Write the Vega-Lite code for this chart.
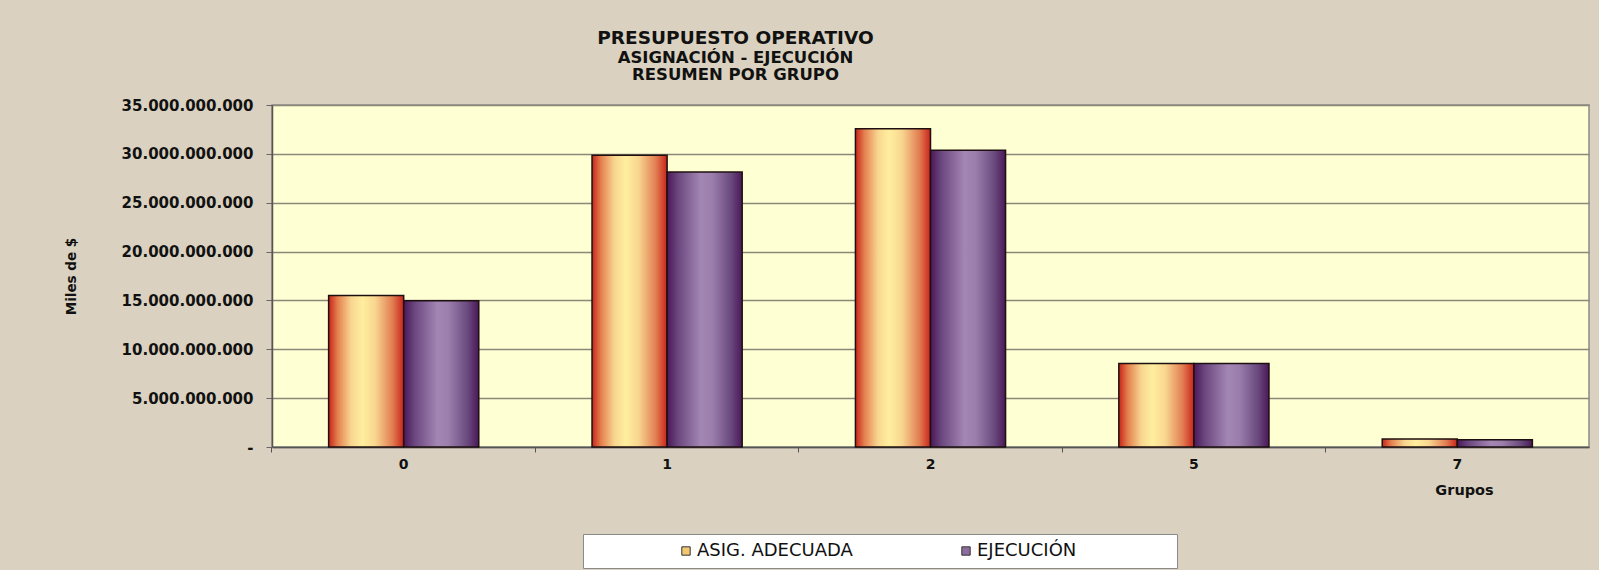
{
  "$schema": "https://vega.github.io/schema/vega-lite/v6.json",
  "width": 1317,
  "height": 342,
  "autosize": {"type": "none"},
  "padding": {"left": 272, "top": 105, "right": 10, "bottom": 123},
  "background": "#DAD1C0",
  "title": {
    "text": "PRESUPUESTO OPERATIVO",
    "subtitle": ["ASIGNACIÓN - EJECUCIÓN", "RESUMEN POR GRUPO"],
    "anchor": "middle",
    "dx": -195,
    "offset": 15,
    "font": "DejaVu Sans",
    "fontSize": 18.5,
    "fontWeight": "bold",
    "color": "#111111",
    "subtitleFont": "DejaVu Sans",
    "subtitleFontSize": 16.5,
    "subtitleFontWeight": "bold",
    "subtitleColor": "#111111",
    "subtitlePadding": 2,
    "subtitleLineHeight": 17
  },
  "data": {
    "values": [
      {"grupo": "0", "serie": "ASIG. ADECUADA", "valor": 15500000000},
      {"grupo": "0", "serie": "EJECUCIÓN", "valor": 14960000000},
      {"grupo": "1", "serie": "ASIG. ADECUADA", "valor": 29850000000},
      {"grupo": "1", "serie": "EJECUCIÓN", "valor": 28140000000},
      {"grupo": "2", "serie": "ASIG. ADECUADA", "valor": 32560000000},
      {"grupo": "2", "serie": "EJECUCIÓN", "valor": 30370000000},
      {"grupo": "5", "serie": "ASIG. ADECUADA", "valor": 8550000000},
      {"grupo": "5", "serie": "EJECUCIÓN", "valor": 8550000000},
      {"grupo": "7", "serie": "ASIG. ADECUADA", "valor": 820000000},
      {"grupo": "7", "serie": "EJECUCIÓN", "valor": 750000000}
    ]
  },
  "encoding": {
    "x": {
      "field": "grupo",
      "type": "nominal",
      "sort": ["0", "1", "2", "5", "7"],
      "scale": {"paddingInner": 0.43, "paddingOuter": 0.215},
      "axis": {
        "title": "Grupos",
        "labelAngle": 0,
        "bandPosition": -0.378,
        "labelOffset": 0,
        "tickSize": 5,
        "tickColor": "#555555",
        "domainColor": "#555555",
        "domainWidth": 1.5,
        "labelFont": "DejaVu Sans",
        "labelFontSize": 14,
        "labelFontWeight": "bold",
        "labelColor": "#111111",
        "labelPadding": 5,
        "titleFont": "DejaVu Sans",
        "titleFontSize": 14.5,
        "titleFontWeight": "bold",
        "titleColor": "#111111",
        "titleX": 1192,
        "titleY": 43,
        "titleAlign": "center",
        "titleBaseline": "middle",
        "titleAnchor": null
      }
    },
    "xOffset": {
      "field": "serie",
      "type": "nominal",
      "scale": {"domain": ["ASIG. ADECUADA", "EJECUCIÓN"], "paddingInner": 0, "paddingOuter": 0}
    },
    "y": {
      "field": "valor",
      "type": "quantitative",
      "scale": {"domain": [0, 35000000000], "nice": false},
      "axis": {
        "title": "Miles de $",
        "values": [0, 5000000000, 10000000000, 15000000000, 20000000000, 25000000000, 30000000000, 35000000000],
        "labelExpr": "datum.value == 0 ? '-' : replace(replace(replace(format(datum.value, ','), ',', '.'), ',', '.'), ',', '.')",
        "grid": true,
        "gridColor": "#8A8878",
        "gridWidth": 1.5,
        "tickSize": 6,
        "tickColor": "#666666",
        "domainColor": "#555555",
        "domainWidth": 1.5,
        "labelFont": "DejaVu Sans",
        "labelFontSize": 15,
        "labelFontWeight": "bold",
        "labelColor": "#111111",
        "labelPadding": 13,
        "titleFont": "DejaVu Sans",
        "titleFontSize": 13.5,
        "titleFontWeight": "bold",
        "titleColor": "#111111",
        "titleX": -201,
        "titleY": 171,
        "titleAngle": -90,
        "titleAlign": "center",
        "titleBaseline": "middle",
        "titleAnchor": null
      }
    }
  },
  "layer": [
    {
      "mark": {"type": "bar"},
      "encoding": {
        "color": {
          "field": "serie",
          "type": "nominal",
          "scale": {"domain": ["ASIG. ADECUADA", "EJECUCIÓN"], "range": ["#F3C673", "#8E6C9E"]},
          "legend": {
            "title": "\u00a0",
            "titleOrient": "left",
            "titlePadding": 86,
            "titleFontSize": 15,
            "orient": "none",
            "legendX": 311,
            "legendY": 429,
            "direction": "horizontal",
            "columns": 2,
            "columnPadding": 104,
            "padding": 8,
            "fillColor": "#FFFFFF",
            "strokeColor": "#8A8A8A",
            "symbolType": "square",
            "symbolSize": 70,
            "symbolStrokeColor": "#333333",
            "symbolStrokeWidth": 1,
            "symbolOpacity": 1,
            "labelFont": "DejaVu Sans",
            "labelFontSize": 18,
            "labelColor": "#111111",
            "labelOffset": 2,
            "labelLimit": 600,
            "labelExpr": "datum.label == 'EJECUCIÓN' ? datum.label + '\u2800\u2800\u2800\u2800\u2800\u2800\u2800' : datum.label"
          }
        }
      }
    },
    {
      "transform": [{"filter": "datum.serie === 'ASIG. ADECUADA'"}],
      "mark": {
        "type": "bar",
        "stroke": "#1E1010",
        "strokeWidth": 1.5,
        "color": {
          "gradient": "linear",
          "x1": 0, "x2": 1, "y1": 0, "y2": 0,
          "stops": [
            {"offset": 0, "color": "#C8241A"},
            {"offset": 0.12, "color": "#E4804E"},
            {"offset": 0.3, "color": "#F8D690"},
            {"offset": 0.45, "color": "#FFEE9E"},
            {"offset": 0.62, "color": "#F8D690"},
            {"offset": 0.85, "color": "#E27E52"},
            {"offset": 1, "color": "#C8241A"}
          ]
        }
      }
    },
    {
      "transform": [{"filter": "datum.serie === 'EJECUCIÓN'"}],
      "mark": {
        "type": "bar",
        "stroke": "#1E1010",
        "strokeWidth": 1.5,
        "color": {
          "gradient": "linear",
          "x1": 0, "x2": 1, "y1": 0, "y2": 0,
          "stops": [
            {"offset": 0, "color": "#4A1858"},
            {"offset": 0.15, "color": "#6C4880"},
            {"offset": 0.45, "color": "#A386B3"},
            {"offset": 0.6, "color": "#9C7EAD"},
            {"offset": 0.85, "color": "#6A4A7E"},
            {"offset": 1, "color": "#4A1858"}
          ]
        }
      }
    }
  ],
  "config": {
    "view": {"fill": "#FFFFD4", "stroke": "#8A8A8A", "strokeWidth": 1.5},
    "font": "DejaVu Sans"
  }
}
